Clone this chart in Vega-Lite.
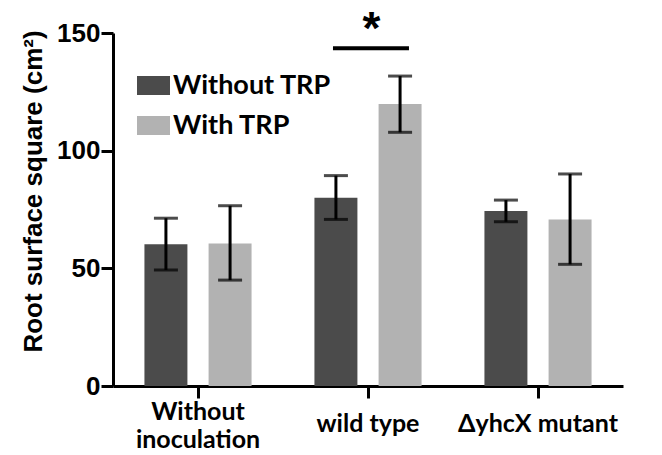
{
  "$schema": "https://vega.github.io/schema/vega-lite/v6.json",
  "width": 510,
  "height": 353,
  "autosize": {"type": "none"},
  "padding": {"left": 113, "top": 33, "right": 39, "bottom": 69},
  "background": "white",
  "config": {
    "view": {"stroke": null},
    "axis": {
      "domainColor": "black",
      "domainWidth": 3,
      "tickColor": "black",
      "tickWidth": 3,
      "tickSize": 12,
      "grid": false,
      "labelColor": "black",
      "titleColor": "black"
    }
  },
  "datasets": {
    "bars": [
      {"group": "Without inoculation", "treatment": "Without TRP", "mean": 60.2, "lo": 49.3, "hi": 71.3},
      {"group": "Without inoculation", "treatment": "With TRP", "mean": 60.6, "lo": 45.0, "hi": 76.6},
      {"group": "wild type", "treatment": "Without TRP", "mean": 80.0, "lo": 70.8, "hi": 89.4},
      {"group": "wild type", "treatment": "With TRP", "mean": 119.8, "lo": 107.8, "hi": 131.7},
      {"group": "ΔyhcX mutant", "treatment": "Without TRP", "mean": 74.4, "lo": 69.8, "hi": 79.0},
      {"group": "ΔyhcX mutant", "treatment": "With TRP", "mean": 70.8, "lo": 51.7, "hi": 90.1}
    ],
    "sig": [
      {"start": 1.294, "end": 1.741, "mid": 1.52, "y": 143.5, "label": "*"}
    ]
  },
  "layer": [
    {
      "data": {"name": "bars"},
      "encoding": {
        "x": {
          "field": "group", "type": "nominal", "sort": null,
          "scale": {"paddingInner": 0, "paddingOuter": 0},
          "axis": {
            "title": null, "labelAngle": 0,
            "labelFont": "Lato", "labelFontWeight": "bold", "labelFontSize": 25,
            "labelBaseline": "middle", "labelLineHeight": 28,
            "labelPadding": {"condition": {"test": "datum.value == 'Without inoculation'", "value": 13}, "value": 25},
            "labelExpr": "datum.value == 'Without inoculation' ? ['Without', 'inoculation'] : datum.value"
          }
        },
        "xOffset": {
          "field": "treatment", "type": "nominal", "sort": ["Without TRP", "With TRP"],
          "scale": {"paddingInner": 0.33, "paddingOuter": 0.49}
        },
        "y": {
          "type": "quantitative",
          "scale": {"domain": [0, 150], "nice": false},
          "axis": {
            "values": [0, 50, 100, 150],
            "title": "Root surface square (cm²)",
            "titleFont": "Liberation Sans", "titleFontWeight": "bold", "titleFontSize": 26,
            "titleX": -80, "titleY": 158, "titleAlign": "center", "titleBaseline": "middle", "titleAngle": -90,
            "labelFont": "Liberation Sans", "labelFontWeight": "bold", "labelFontSize": 26,
            "labelPadding": 1
          }
        }
      },
      "layer": [
        {
          "mark": {"type": "bar"},
          "encoding": {
            "y": {"field": "mean", "type": "quantitative"},
            "color": {
              "field": "treatment", "type": "nominal",
              "scale": {"domain": ["Without TRP", "With TRP"], "range": ["#4b4b4b", "#b2b2b2"]},
              "legend": {
                "title": null, "orient": "none", "legendX": 24, "legendY": 36,
                "symbolType": "M-1,-0.576H1V0.576H-1Z", "symbolSize": 1089, "symbolStrokeWidth": 0,
                "labelFont": "Lato", "labelFontWeight": "bold", "labelFontSize": 27, "labelColor": "black",
                "labelOffset": 3, "rowPadding": 10
              }
            }
          }
        },
        {
          "mark": {"type": "rule", "color": "black", "strokeWidth": 3},
          "encoding": {
            "y": {"field": "lo", "type": "quantitative"},
            "y2": {"field": "hi"}
          }
        },
        {
          "mark": {"type": "tick", "color": "black", "thickness": 3, "size": 24},
          "encoding": {"y": {"field": "lo", "type": "quantitative"}}
        },
        {
          "mark": {"type": "tick", "color": "black", "thickness": 3, "size": 24},
          "encoding": {"y": {"field": "hi", "type": "quantitative"}}
        }
      ]
    },
    {
      "data": {"name": "sig"},
      "encoding": {},
      "layer": [
        {
          "mark": {"type": "rule", "color": "black", "strokeWidth": 4},
          "encoding": {
            "x": {"field": "start", "type": "quantitative", "scale": {"domain": [0, 3], "nice": false, "zero": false}, "axis": null},
            "x2": {"field": "end"},
            "y": {"field": "y", "type": "quantitative"}
          }
        },
        {
          "mark": {"type": "text", "font": "Liberation Sans", "fontWeight": "bold", "fontSize": 46, "baseline": "alphabetic", "dy": -4},
          "encoding": {
            "x": {"field": "mid", "type": "quantitative", "scale": {"domain": [0, 3], "nice": false, "zero": false}, "axis": null},
            "y": {"field": "y", "type": "quantitative"},
            "text": {"field": "label"}
          }
        }
      ]
    }
  ],
  "resolve": {"scale": {"x": "independent"}, "axis": {"x": "independent"}}
}
